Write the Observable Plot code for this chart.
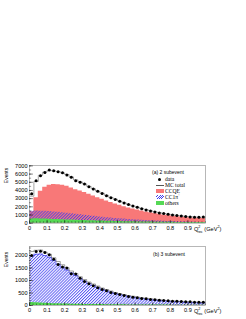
<!DOCTYPE html>
<html><head><meta charset="utf-8">
<script src="https://cdn.jsdelivr.net/npm/d3@7"></script>
<script src="https://cdn.jsdelivr.net/npm/@observablehq/plot@0.6"></script>
<style>
html,body{margin:0;padding:0;background:#fff}
body{width:246px;height:319px;position:relative;overflow:hidden;font-family:"Liberation Sans",Arial,sans-serif}
.panel{position:absolute;left:0}
.ylab{position:absolute;font-size:5px;transform:rotate(-90deg);transform-origin:center;white-space:nowrap;line-height:1}
.xlab{position:absolute;font-size:5.6px;white-space:nowrap;line-height:1}
.xlab sup,.xlab sub{font-size:3.8px}
.tag{position:absolute;font-size:5px;white-space:nowrap;line-height:1}
.leg{position:absolute;font-family:"Liberation Serif","Times New Roman",serif;font-size:5.6px;line-height:6px;white-space:nowrap}
.leg div{height:6px;position:relative;padding-left:9px}
.sw{position:absolute;left:0;top:1.3px;width:7.5px;height:3.6px}
</style></head><body>
<svg width="0" height="0" style="position:absolute">
<defs>
<pattern id="hatch" patternUnits="userSpaceOnUse" width="2.1" height="2.1" patternTransform="rotate(45)">
<line x1="0.5" y1="0" x2="0.5" y2="2.1" stroke="#3b3bf0" stroke-width="0.8"/>
</pattern>
</defs>
</svg>
<div id="p1" class="panel" style="top:155px"></div>
<div id="p2" class="panel" style="top:236px"></div>
<div class="ylab" style="left:-1px;top:173px">Events</div>
<div class="ylab" style="left:-1px;top:257px">Events</div>
<div class="xlab" style="left:194px;top:226px">Q<sup>2</sup><sub style="margin-left:-3px">rec</sub> (GeV<sup>2</sup>)</div>
<div class="xlab" style="left:194px;top:308px">Q<sup>2</sup><sub style="margin-left:-3px">rec</sub> (GeV<sup>2</sup>)</div>
<div class="tag" style="left:152px;top:170px">(a) 2 subevent</div>
<div class="leg" style="left:156px;top:176px">
<div><span class="sw" style="background:none"><span style="position:absolute;left:2.3px;top:0.3px;width:3px;height:3px;border-radius:50%;background:#000"></span></span>data</div>
<div><span class="sw" style="background:none;height:0;top:3px;border-top:0.8px solid #555"></span>MC total</div>
<div><span class="sw" style="background:#f87878"></span>CCQE</div>
<div><span class="sw" style="background:repeating-linear-gradient(-45deg,#3b3bf0 0 0.7px,#fff 0.7px 1.6px)"></span>CC1π<sup style="font-size:3.4px;line-height:0">+</sup></div>
<div><span class="sw" style="background:#55d855"></span>others</div>
</div>
<div class="tag" style="left:153px;top:252px">(b) 3 subevent</div>
<script>
// bin lower edges of Q^2_rec (GeV^2), 40 bins of 0.025
const binLo = d3.range(40).map(i => i * 0.025);
const binW = 0.025;
const xTicks = [0, 0.1, 0.2, 0.3, 0.4, 0.5, 0.6, 0.7, 0.8, 0.9];
const yTicks2 = [0, 1000, 2000, 3000, 4000, 5000, 6000, 7000];
const yTicks3 = [0, 500, 1000, 1500, 2000];

// (a) 2 subevent
const data2 = [3600,5200,5800,6200,6500,6400,6280,6150,5900,5600,5200,5000,4780,4450,4170,3890,3640,3360,3120,2910,2670,2470,2270,2100,1940,1780,1620,1500,1380,1260,1170,1090,1010,930,890,810,770,730,730,770];
const mc2 = [3300,5100,5850,6250,6450,6400,6300,6150,5950,5650,5300,5050,4800,4500,4200,3920,3660,3400,3150,2930,2700,2490,2290,2110,1950,1800,1650,1520,1400,1290,1190,1100,1020,950,890,830,790,750,740,740];
const ccqe2 = [1400,3100,3900,4400,4650,4720,4700,4640,4500,4300,4100,3920,3740,3540,3330,3120,2920,2720,2530,2350,2180,2020,1870,1730,1600,1480,1370,1270,1180,1090,1010,940,870,810,750,700,660,620,590,570];
const ccpi2 = [1450,1480,1470,1450,1420,1380,1330,1270,1210,1150,1080,1020,960,900,840,780,730,680,630,580,530,500,460,430,400,370,340,310,280,260,240,220,200,180,160,140,120,110,100,90];
const others2 = [520,530,520,500,480,460,440,420,400,380,360,340,320,300,285,270,255,240,225,210,200,190,180,170,160,150,140,135,130,120,115,110,105,100,95,90,85,80,80,75];

// (b) 3 subevent
const data3 = [2000,2160,2170,2120,2030,1850,1640,1540,1500,1270,1260,1090,960,870,790,710,640,590,520,480,440,400,360,330,310,280,270,240,230,210,200,190,170,170,160,150,150,130,130,130];
const mc3 = [2160,2210,2220,2140,2050,1910,1760,1630,1510,1380,1280,1150,1040,940,860,780,700,640,580,520,480,440,400,370,340,310,290,270,250,230,210,195,185,175,165,155,145,140,135,130];
const ccqe3 = [40,50,50,45,40,38,35,32,30,28,26,24,22,20,19,18,17,16,15,14,13,12,12,11,11,10,10,10,9,9,9,8,8,8,8,7,7,7,7,7];
const ccpi3 = [2000,2050,2060,2000,1930,1800,1650,1530,1420,1300,1200,1080,970,880,800,720,650,590,530,480,440,400,360,330,300,275,255,235,215,200,185,170,160,150,140,130,120,115,110,105];
const others3 = [120,110,100,90,80,75,70,65,60,55,50,48,45,42,40,38,36,34,32,30,28,26,25,24,23,22,21,20,19,18,17,16,15,15,14,14,13,13,12,12];

function steps(vals) {
  const pts = [];
  binLo.forEach((lo, i) => { pts.push({x: lo, y: vals[i]}); pts.push({x: lo + binW, y: vals[i]}); });
  return pts;
}

function panel({data, mc, ccqe, ccpi, others, yMax, yTicks, yMinorStep, hatchOutline, mb}) {
  const majLenY = yMax * 0.045, minLenY = yMax * 0.025;
  const xMinor = d3.range(0, 1.0001, 0.02);
  const yMinor = d3.range(0, yMax, yMinorStep);
  const pts = binLo.map((lo, i) => ({x: lo + binW / 2, y: data[i]}));
  return Plot.plot({
    width: 246, height: 80,
    marginLeft: 29, marginRight: 41, marginTop: 10, marginBottom: mb,
    style: {fontFamily: "Liberation Sans, Arial, sans-serif", fontSize: "5.6px", background: "transparent"},
    x: {domain: [0, 1], label: null},
    y: {domain: [0, yMax], label: null},
    marks: [
      Plot.areaY(steps(ccqe), {x: "x", y1: 0, y2: "y", fill: "#f87878"}),
      Plot.areaY(steps(ccpi), {x: "x", y1: 0, y2: "y", fill: "url(#hatch)"}),
      hatchOutline ? Plot.line(steps(ccpi), {x: "x", y: "y", stroke: "#3b3bf0", strokeWidth: 0.7}) : null,
      Plot.areaY(steps(others), {x: "x", y1: 0, y2: "y", fill: "#55d855"}),
      Plot.line(steps(mc), {x: "x", y: "y", stroke: "#666", strokeWidth: 0.6}),
      Plot.dot(pts, {x: "x", y: "y", r: 1.5, fill: "#000", stroke: "none"}),
      Plot.frame({stroke: "#999", strokeWidth: 0.7}),
      Plot.ruleX(xTicks, {y1: 0, y2: majLenY, stroke: "#000", strokeWidth: 0.5}),
      Plot.ruleX(xMinor, {y1: 0, y2: minLenY, stroke: "#000", strokeWidth: 0.4}),
      Plot.ruleY(yTicks, {x1: 0, x2: 0.022, stroke: "#000", strokeWidth: 0.5}),
      Plot.ruleY(yMinor, {x1: 0, x2: 0.012, stroke: "#000", strokeWidth: 0.4}),
      Plot.axisX(xTicks, {tickSize: 0, tickPadding: 2.5, tickFormat: d => String(d), fill: "#000", label: null}),
      Plot.axisY(yTicks, {tickSize: 0, tickPadding: 2, tickFormat: d => String(d), fill: "#000", label: null})
    ]
  });
}

document.getElementById("p1").append(panel({
  data: data2, mc: mc2, ccqe: ccqe2, ccpi: ccpi2, others: others2,
  yMax: 7050, yTicks: yTicks2, yMinorStep: 500, hatchOutline: false, mb: 12.3
}));
document.getElementById("p2").append(panel({
  data: data3, mc: mc3, ccqe: ccqe3, ccpi: ccpi3, others: others3,
  yMax: 2360, yTicks: yTicks3, yMinorStep: 100, hatchOutline: true, mb: 11
}));
</script>
</body></html>
